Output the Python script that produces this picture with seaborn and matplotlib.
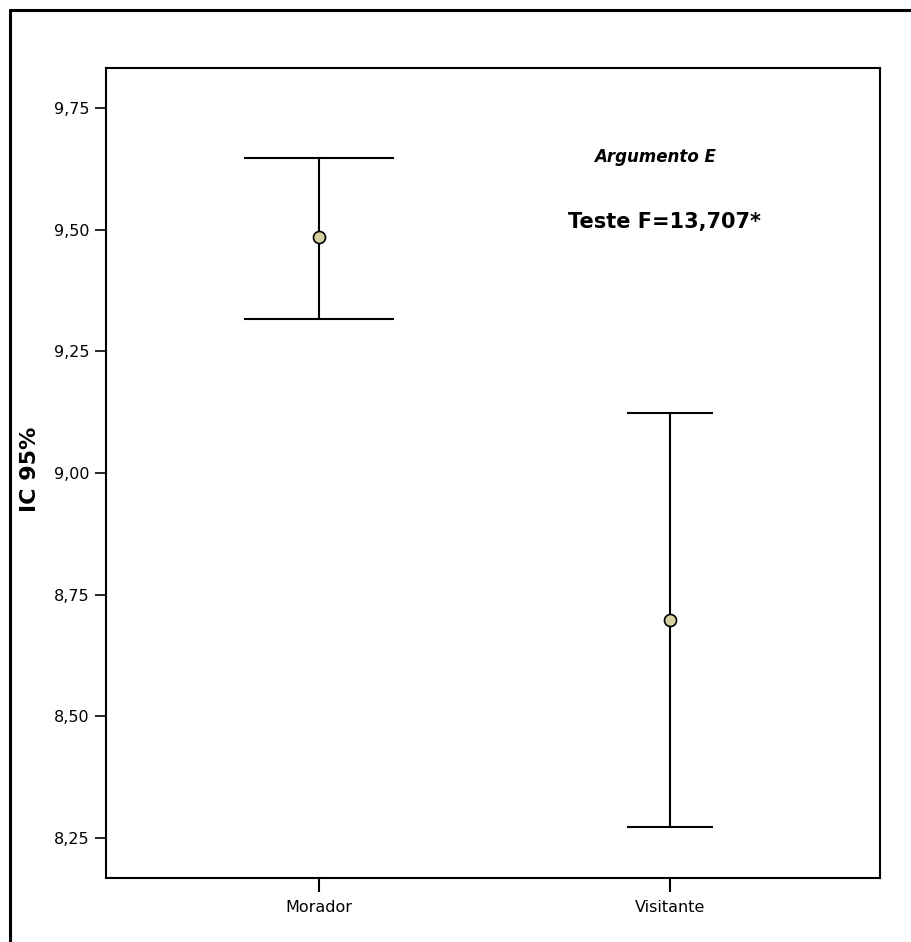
import matplotlib
matplotlib.use("Agg")
import matplotlib.pyplot as plt
import seaborn as sns
import pandas as pd
from matplotlib.lines import Line2D

# Data
groups = ["Morador", "Visitante"]
means = [9.485, 8.698]
ci_low = [9.316, 8.273]
ci_high = [9.647, 9.123]
cap_sizes = [54, 31]
yticks = [8.25, 8.50, 8.75, 9.00, 9.25, 9.50, 9.75]
ytick_labels = ["8,25", "8,50", "8,75", "9,00", "9,25", "9,50", "9,75"]
title1 = "Argumento E"
title2 = "Teste F=13,707*"
ylabel = "IC 95%"

sns.set_style("white")
plt.rcParams['font.family'] = ['DejaVu Sans']
plt.rcParams['text.color'] = 'black'
plt.rcParams['axes.labelcolor'] = 'black'
plt.rcParams['xtick.color'] = 'black'
plt.rcParams['ytick.color'] = 'black'

fig = plt.figure(figsize=(9.12, 9.42), dpi=100)
ax = fig.add_axes([0.1162, 0.0679, 0.8487, 0.8599])

df = pd.DataFrame({"group": groups, "mean": means, "lo": ci_low, "hi": ci_high})
xpos = list(range(len(groups)))

for i, row in df.iterrows():
    ax.errorbar([xpos[i]], [row["mean"]],
                yerr=[[row["mean"] - row["lo"]], [row["hi"] - row["mean"]]],
                fmt="none", ecolor="black", elinewidth=1.5, capsize=cap_sizes[i],
                capthick=1.5, zorder=2)

sns.scatterplot(x=xpos, y=df["mean"], ax=ax, s=75, color="#d8d0a0",
                edgecolor="black", linewidth=1.2, zorder=3, legend=False)

ax.set_xlim(-0.607, 1.598)
ax.set_ylim(8.168, 9.832)
ax.set_xticks(xpos)
ax.set_xticklabels(groups, fontsize=11.5)
ax.set_yticks(yticks)
ax.set_yticklabels(ytick_labels, fontsize=11.5)
ax.tick_params(axis="x", direction="out", length=10, width=1.5, color="black", pad=6, bottom=True)
ax.tick_params(axis="y", direction="out", length=8, width=1.2, color="black", pad=4, left=True)
for sp in ax.spines.values():
    sp.set_color("black")
    sp.set_linewidth(1.5)
    sp.set_visible(True)

ax.set_ylabel(ylabel, fontsize=16, fontweight="bold", color="black")
ax.yaxis.set_label_coords(-0.085, 0.504)

ax.text(0.709, 0.890, title1, transform=ax.transAxes, ha="center", va="center",
        fontsize=12, fontweight="bold", fontstyle="italic", color="black")
ax.text(0.722, 0.810, title2, transform=ax.transAxes, ha="center", va="center",
        fontsize=15, fontweight="bold", color="black")

# Outer frame (top and left)
fig.add_artist(Line2D([10/912, 1.0], [1 - 10/942, 1 - 10/942], color="black", linewidth=2.2, transform=fig.transFigure))
fig.add_artist(Line2D([10/912, 10/912], [1 - 10/942, 0.0], color="black", linewidth=2.2, transform=fig.transFigure))

fig.savefig("out.png", dpi=100)
